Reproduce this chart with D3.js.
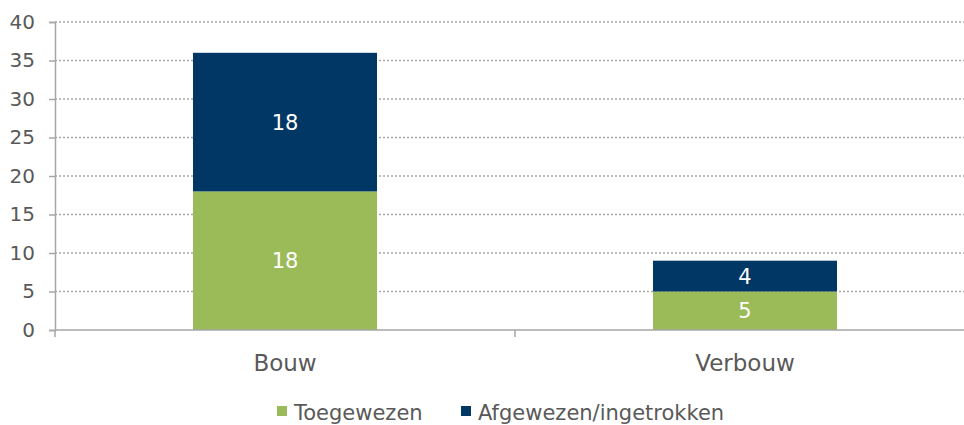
<!DOCTYPE html>
<html>
<head>
<meta charset="utf-8">
<script src="https://cdn.jsdelivr.net/npm/d3@7"></script>
<style>
  body { margin: 0; background: #fff; }
  svg text { font-family: "DejaVu Sans", Verdana, sans-serif; }
</style>
</head>
<body>
<div id="chart"></div>
<script>
// data
var categories = ["Bouw", "Verbouw"];
var seriesNames = ["Toegewezen", "Afgewezen/ingetrokken"];
var toegewezen = [18, 5];
var afgewezen = [18, 4];
var yTicks = [0, 5, 10, 15, 20, 25, 30, 35, 40];
var colors = ["#9BBB59", "#003764"];

var width = 964, height = 425;

var svg = d3.select("#chart").append("svg")
  .attr("width", width)
  .attr("height", height);

// scales
var x = d3.scaleBand()
  .domain(categories)
  .range([55, 975])
  .paddingInner(0.6)
  .paddingOuter(0.3);

var y = d3.scaleLinear()
  .domain([0, 40])
  .range([330, 22]);

// gridlines
svg.append("g").selectAll("line")
  .data(yTicks.slice(1))
  .enter().append("line")
  .attr("x1", 55).attr("x2", width)
  .attr("y1", function(d) { return y(d); })
  .attr("y2", function(d) { return y(d); })
  .attr("stroke", "#A6A6A6")
  .attr("stroke-width", 1.3)
  .attr("stroke-dasharray", "2,2");

// stacked bars
var rows = categories.map(function(c, i) {
  return {cat: c, Toegewezen: toegewezen[i], "Afgewezen/ingetrokken": afgewezen[i]};
});
var stack = d3.stack().keys(seriesNames)(rows);

var layers = svg.append("g").selectAll("g")
  .data(stack)
  .enter().append("g")
  .attr("fill", function(d, i) { return colors[i]; });

layers.selectAll("rect")
  .data(function(d) { return d; })
  .enter().append("rect")
  .attr("x", function(d) { return x(d.data.cat); })
  .attr("width", x.bandwidth())
  .attr("y", function(d) { return y(d[1]); })
  .attr("height", function(d) { return y(d[0]) - y(d[1]); });

layers.selectAll("text")
  .data(function(d) { return d; })
  .enter().append("text")
  .attr("x", function(d) { return x(d.data.cat) + x.bandwidth() / 2; })
  .attr("y", function(d) { return (y(d[0]) + y(d[1])) / 2; })
  .attr("dy", "0.36em")
  .attr("text-anchor", "middle")
  .attr("fill", "#fff")
  .style("font-size", "21px")
  .text(function(d) { return d[1] - d[0]; });

// y axis
var yAxis = svg.append("g")
  .attr("transform", "translate(55,0)")
  .call(d3.axisLeft(y).tickValues(yTicks).tickSize(6).tickPadding(14));
yAxis.select(".domain").attr("stroke", "#A6A6A6").attr("stroke-width", 1.5);
yAxis.selectAll(".tick line").attr("stroke", "#A6A6A6").attr("stroke-width", 1.5);
yAxis.selectAll(".tick text")
  .attr("fill", "#595959")
  .style("font-size", "20px")
  .style("font-family", "DejaVu Sans, Verdana, sans-serif");

// x axis line with category separators
svg.append("line")
  .attr("x1", 55).attr("x2", width)
  .attr("y1", y(0)).attr("y2", y(0))
  .attr("stroke", "#A6A6A6").attr("stroke-width", 1.5);

var bounds = [55, x(categories[1]) - x.step() * x.paddingInner() / 2];
svg.append("g").selectAll("line")
  .data(bounds)
  .enter().append("line")
  .attr("x1", function(d) { return d; })
  .attr("x2", function(d) { return d; })
  .attr("y1", y(0)).attr("y2", y(0) + 7)
  .attr("stroke", "#A6A6A6").attr("stroke-width", 1.5);

svg.append("g").selectAll("text")
  .data(categories)
  .enter().append("text")
  .attr("x", function(d) { return x(d) + x.bandwidth() / 2; })
  .attr("y", 362.5)
  .attr("dy", "0.36em")
  .attr("text-anchor", "middle")
  .attr("fill", "#595959")
  .style("font-size", "23px")
  .text(function(d) { return d; });

// legend
var legendX = [277, 461];
var legend = svg.append("g").selectAll("g")
  .data(seriesNames)
  .enter().append("g")
  .attr("transform", function(d, i) { return "translate(" + legendX[i] + ",412)"; });

legend.append("rect")
  .attr("x", 0).attr("y", -6)
  .attr("width", 10).attr("height", 10)
  .attr("fill", function(d, i) { return colors[i]; });

legend.append("text")
  .attr("x", 17)
  .attr("dy", "0.36em")
  .attr("fill", "#595959")
  .style("font-size", "21px")
  .text(function(d) { return d; });
</script>
</body>
</html>
